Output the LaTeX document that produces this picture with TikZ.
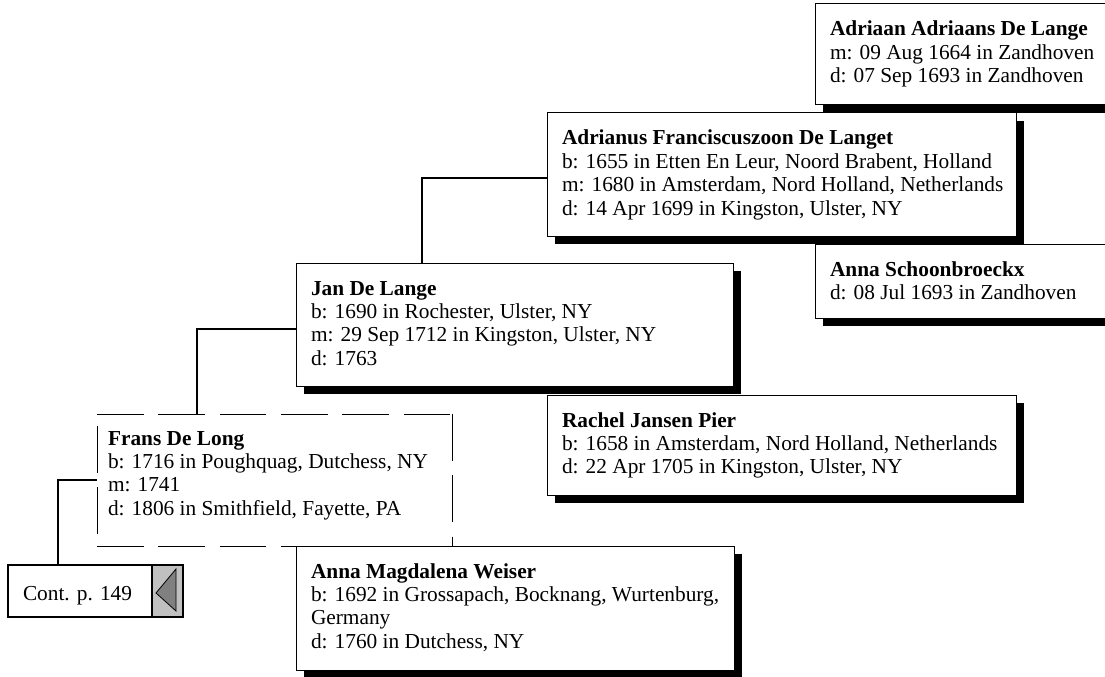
\documentclass[tikz,border=0pt]{standalone}
\usepackage{fontspec}
\setmainfont{Liberation Serif}
\usetikzlibrary{shadows,calc}
\definecolor{contgray}{RGB}{192,192,192}
\definecolor{arrowgray}{RGB}{128,128,128}
\begin{document}
\begin{tikzpicture}[x=0.75pt,y=-0.75pt,
  pbox/.style={draw, fill=white, line width=0.75pt, inner sep=0, outer sep=0, anchor=north west,
    general shadow={fill=black, shadow xshift=6pt, shadow yshift=-6pt}},
  dbox/.style={fill=white, inner sep=0, outer sep=0, anchor=north west},
  fdash/.style={line width=0.75pt, dash pattern=on 35pt off 11pt},
  ptext/.style={anchor=base west, inner sep=0, outer sep=0, font=\fontsize{16}{17.6}\selectfont},
  conn/.style={line width=0.9pt}]
\useasboundingbox (0,0) rectangle (1105,677);

% boxes (drawn back to front)
\node[pbox, minimum width=222.75pt, minimum height=55.5pt] (AS) at (815,244) {};
\node[pbox, minimum width=222.75pt, minimum height=75.75pt] (AD) at (815,4) {};
\node[pbox, minimum width=351.75pt, minimum height=92.25pt] (AF) at (547,113) {};
\node[pbox, minimum width=351.75pt, minimum height=75pt] (RP) at (547,395) {};

% connectors and remaining boxes
\node[pbox, minimum width=327.75pt, minimum height=92.25pt] (JD) at (296,263) {};
\draw[conn] ($(JD.north west)+(126,0)$) |- ($(AF.north west)+(0,65)$);
\node[pbox, minimum width=328.5pt, minimum height=93pt] (AM) at (296,546) {};
\node[dbox, minimum width=266.25pt, minimum height=99pt] (FD) at (97,414) {};
\draw[conn] ($(FD.north west)+(100,0)$) |- ($(JD.north west)+(0,66)$);

% dashed box edges
\draw[fdash] (FD.north west) -- (FD.north east);
\draw[fdash] (FD.south west) -- (FD.south east);
\draw[fdash, dash phase=37pt] (FD.north west) -- (FD.south west);
\draw[fdash] (FD.north east) -- (FD.south east);

% continuation box
\node[draw, fill=white, line width=1.5pt, inner sep=0, outer sep=0, anchor=north west,
  minimum width=131.25pt, minimum height=39pt] (cont) at (8,565) {};
\draw[conn] ($(cont.north west)+(50,0)$) |- ($(FD.north west)+(0,66)$);
\fill[contgray] ($(cont.north west)+(144,0)$) rectangle (cont.south east);
\draw[line width=1pt] ($(cont.north west)+(144,0)$) -- ($(cont.south west)+(144,0)$);
\draw[line width=1.5pt] (cont.north west) rectangle (cont.south east);
\draw[fill=arrowgray, line width=0.6pt] ($(cont.north west)+(148,28)$) -- ($(cont.north west)+(168,4)$)
  -- ($(cont.north west)+(168,46)$) -- cycle;
\node[ptext] (conttext) at (23,600) {Cont. p. 149};

% texts
\node[ptext] (ADt) at (830,36) {\vtop{\hbox{\textbf{Adriaan Adriaans De Lange}}\hbox{m: 09 Aug 1664 in Zandhoven}\hbox{d: 07 Sep 1693 in Zandhoven}}};
\node[ptext] (AFt) at (562,145) {\vtop{\hbox{\textbf{Adrianus Franciscuszoon De Langet}}\hbox{b: 1655 in Etten En Leur, Noord Brabent, Holland}\hbox{m: 1680 in Amsterdam, Nord Holland, Netherlands}\hbox{d: 14 Apr 1699 in Kingston, Ulster, NY}}};
\node[ptext] (ASt) at (830,276) {\vtop{\hbox{\textbf{Anna Schoonbroeckx}}\hbox{d: 08 Jul 1693 in Zandhoven}}};
\node[ptext] (JDt) at (311,295) {\vtop{\hbox{\textbf{Jan De Lange}}\hbox{b: 1690 in Rochester, Ulster, NY}\hbox{m: 29 Sep 1712 in Kingston, Ulster, NY}\hbox{d: 1763}}};
\node[ptext] (RPt) at (562,427) {\vtop{\hbox{\textbf{Rachel Jansen Pier}}\hbox{b: 1658 in Amsterdam, Nord Holland, Netherlands}\hbox{d: 22 Apr 1705 in Kingston, Ulster, NY}}};
\node[ptext] (FDt) at (108,445) {\vtop{\hbox{\textbf{Frans De Long}}\hbox{b: 1716 in Poughquag, Dutchess, NY}\hbox{m: 1741}\hbox{d: 1806 in Smithfield, Fayette, PA}}};
\node[ptext] (AMt) at (311,578) {\vtop{\hbox{\textbf{Anna Magdalena Weiser}}\hbox{b: 1692 in Grossapach, Bocknang, Wurtenburg,}\hbox{Germany}\hbox{d: 1760 in Dutchess, NY}}};
\end{tikzpicture}
\end{document}
